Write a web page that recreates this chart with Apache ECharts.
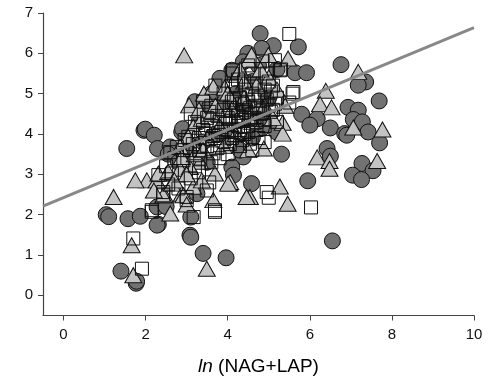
<!DOCTYPE html>
<html>
<head>
<meta charset="utf-8">
<script src="https://cdn.jsdelivr.net/npm/echarts@6/dist/echarts.min.js"></script>
<style>html,body{margin:0;padding:0;background:#fff}#c{width:494px;height:382px}</style>
</head>
<body>
<div id="c"></div>
<script>
const xTicks = [0, 2, 4, 6, 8, 10];
const yTicks = [0, 1, 2, 3, 4, 5, 6, 7];
const xTitle = 'ln';
const xTitleRest = ' (NAG+LAP)';

const circles = [
  [1.04,2.0],[1.1,1.95],[1.57,1.9],[1.87,1.96],[2.28,2.19],[2.31,1.76],[2.28,1.74],[3.1,1.94],[3.08,1.49],[3.1,1.44],
  [3.4,1.04],[3.96,0.93],[1.4,0.6],[1.77,0.3],[1.78,0.35],
  [1.54,3.64],[1.96,4.09],[1.99,4.12],[2.21,3.97],[2.29,3.64],[2.6,3.68],[2.88,4.05],[2.9,4.13],[2.55,3.5],[3.25,2.52],[2.5,2.2],
  [4.79,6.49],[5.72,6.16],[5.11,6.19],[4.83,6.12],[4.49,6.0],[4.38,5.79],[4.1,5.58],[3.81,5.38],[5.64,5.52],[5.92,5.52],
  [6.76,5.72],[7.36,5.29],[7.18,5.21],[7.69,4.82],[5.8,4.49],[6.18,4.38],[6.0,4.22],[6.5,4.15],[6.93,4.66],[7.18,4.59],
  [7.06,4.36],[7.28,4.3],[6.85,4.01],[6.9,3.97],[7.42,4.05],[7.7,3.78],[5.31,3.5],[6.42,3.64],[6.5,3.45],[7.27,3.27],
  [7.54,3.09],[7.04,2.98],[7.26,2.87],[5.95,2.84],[4.58,2.77],[4.38,3.43],[4.83,4.14],[5.19,4.05],[6.55,1.35],[4.1,3.18],[4.14,2.98],
  [3.5,4.6],[3.3,4.3],[3.7,4.0],[4.0,3.9],[4.3,3.6],[4.6,3.9],[4.9,4.4],[5.0,4.9],[5.2,5.6],[4.6,5.3],
  [4.2,5.0],[3.9,4.8],[3.4,3.8],[3.0,3.6],[3.6,5.0],[4.4,4.7],[3.2,4.8],[4.75,5.7],[2.8,3.3],[3.5,3.3]
];

const triangles = [
  [2.94,5.95],[3.06,4.71],[3.42,5.0],[3.65,5.17],[3.93,5.15],[4.22,5.46],[4.5,5.83],[4.58,5.96],[4.99,5.96],[5.47,5.87],
  [7.18,5.54],[6.39,5.07],[6.25,4.74],[6.53,4.66],[5.34,4.28],[5.34,4.01],[4.88,3.64],[7.06,4.16],[7.77,4.11],[6.18,3.42],
  [6.48,3.33],[6.48,3.14],[7.64,3.33],[5.27,2.7],[4.54,2.44],[5.46,2.27],[4.04,2.77],[3.65,2.36],
  [3.16,4.18],[3.37,4.38],[3.04,3.93],[2.84,3.68],[2.03,2.85],[2.27,2.85],[2.52,3.02],[3.0,3.23],[3.33,3.31],[4.06,2.81],
  [1.22,2.44],[1.66,1.24],[1.7,0.5],[3.49,0.66],[2.6,2.03],[2.47,2.48],[2.88,2.52],[4.46,2.44],[2.31,3.02],[2.55,3.06],
  [2.43,2.48],[3.16,2.69],[3.37,2.85],[2.92,2.48],[2.64,2.77],[2.84,3.14],[3.69,3.02],[4.01,2.77],[3.08,3.18],[2.88,3.43],
  [3.0,2.25],[2.2,2.6],[1.75,2.85],
  [3.3,4.6],[3.6,4.5],[3.8,4.2],[4.1,4.6],[4.4,4.9],[4.7,5.2],[5.0,5.4],[5.2,5.1],[4.6,4.3],[4.2,4.0],
  [3.9,3.7],[3.5,3.9],[3.2,3.5],[4.4,5.3],[4.9,4.7],[5.4,4.7],[4.0,5.0],[3.7,4.7],[4.8,5.6],[4.3,5.6],
  [3.4,3.6],[4.5,3.6],[3.0,3.0],[2.7,2.85],[5.1,4.4]
];

const squares = [
  [5.5,6.48],[5.58,5.0],[5.5,4.78],[4.95,2.56],[5.0,2.42],[6.03,2.18],[4.54,3.76],
  [1.7,1.41],[1.91,0.66],[2.15,2.07],[3.69,2.07],[3.17,1.94],[3.49,2.6],[2.43,2.48],[3.0,2.36],
  [2.76,3.68],[3.08,3.6],[3.33,3.68],[2.64,3.02],[2.43,2.56],[2.31,2.98],[3.0,2.44],[3.69,2.11],[2.15,2.11],
  [3.33,3.39],[3.65,3.52],[2.92,3.35],[3.04,3.93],
  [5.15,5.83],[4.13,5.58],[5.27,5.58],[5.6,5.04],
  [3.4,4.1],[3.5,4.4],[3.6,4.7],[3.7,3.9],[3.8,4.3],[3.9,4.6],[4.0,4.1],[4.0,4.4],[4.1,4.8],[4.2,4.3],
  [4.2,4.6],[4.3,4.1],[4.3,4.9],[4.4,4.4],[4.4,4.6],[4.5,4.8],[4.5,4.2],[4.6,4.5],[4.6,5.0],[4.7,4.7],
  [4.7,4.3],[4.8,4.9],[4.8,4.5],[4.9,5.1],[4.9,4.2],[5.0,4.7],[5.1,4.6],[5.1,5.2],[5.2,4.9],[5.0,5.3],
  [4.6,5.5],[4.4,5.3],[4.2,5.2],[3.9,5.0],[3.7,5.2],[3.6,4.2],[3.3,3.9],[3.5,3.7],[3.9,3.8],[4.1,3.9],
  [4.4,4.0],[4.7,4.1],[4.9,3.8],[4.3,3.7],[4.0,3.5],[3.8,3.4],[3.2,4.3],[3.4,4.8],[3.1,4.5],[4.1,5.5],
  [4.5,5.7],[4.85,5.8],[5.3,5.6],[5.2,4.3],[4.6,3.6],[3.6,3.3],[3.2,3.2],[2.9,3.6],[2.7,3.4],[2.5,3.2],
  [4.75,4.65],[4.35,4.75],[4.05,4.25],[4.55,4.35],[4.25,4.45],[4.65,4.85],[3.95,4.45],[4.15,4.05],[4.85,4.35],[5.05,4.55],
  [3.3,3.6],[3.45,4.0],[3.55,4.55],[3.75,4.45],[3.85,4.05],[3.95,4.25],[4.05,4.65],[4.15,4.85],[4.25,4.2],[4.35,4.35],
  [4.45,4.55],[4.55,4.65],[4.65,4.4],[4.75,4.95],[4.85,4.6],[4.95,4.85],[5.05,5.05],[5.15,4.75],[4.45,5.1],[4.25,5.35],
  [4.65,5.25],[4.95,5.5],[3.75,3.65],[4.05,3.75],[4.35,3.85],[4.75,3.9],[3.15,3.75],[2.95,3.85],[2.6,3.55],[3.1,2.9],
  [3.3,3.05],[2.8,2.65],[2.55,2.75],[3.55,2.8],[4.1,5.2],[4.5,4.05],[3.65,3.95]
];

const fitX = [-0.5, 10];
const fitY = [2.21, 6.64];

const chart = echarts.init(document.getElementById('c'), null, {renderer: 'canvas'});
const font = 'Liberation Sans, Arial, sans-serif';
const axisCol = '#444';

chart.setOption({
  animation: false,
  backgroundColor: '#fff',
  grid: {left: 43, right: 20, top: 13, bottom: 66.5, containLabel: false},
  xAxis: {
    type: 'value', min: -0.5, max: 10,
    name: '{i|' + xTitle + '}' + xTitleRest,
    nameLocation: 'middle', nameGap: 42,
    nameTextStyle: {fontFamily: font, fontSize: 19, color: '#000',
      rich: {i: {fontStyle: 'italic', fontFamily: font, fontSize: 19, color: '#000'}}},
    splitLine: {show: false},
    axisLine: {show: true, onZero: false, lineStyle: {color: axisCol, width: 1.2}},
    axisTick: {show: true, inside: false, length: 5, customValues: xTicks, lineStyle: {color: axisCol}},
    axisLabel: {customValues: xTicks, margin: 12, fontFamily: font, fontSize: 15, color: '#111'}
  },
  yAxis: {
    type: 'value', min: -0.5, max: 7,
    splitLine: {show: false},
    axisLine: {show: true, onZero: false, lineStyle: {color: axisCol, width: 1.2}},
    axisTick: {show: true, inside: false, length: 5, customValues: yTicks, lineStyle: {color: axisCol}},
    axisLabel: {customValues: yTicks, margin: 10, fontFamily: font, fontSize: 15, color: '#111'}
  },
  series: [
    {type: 'scatter', data: circles, symbol: 'circle', symbolSize: 16,
     itemStyle: {color: '#727272', borderColor: '#111', borderWidth: 1, opacity: 1}},
    {type: 'scatter', data: triangles, symbol: 'triangle', symbolSize: [17, 15],
     itemStyle: {color: '#c3c3c3', borderColor: '#111', borderWidth: 1, opacity: 1}},
    {type: 'scatter', data: squares, symbol: 'rect', symbolSize: 13,
     itemStyle: {color: 'rgba(255,255,255,0)', borderColor: '#111', borderWidth: 1, opacity: 1}},
    {type: 'line', data: fitX.map((x, i) => [x, fitY[i]]), symbol: 'none', z: 5,
     lineStyle: {color: '#888', width: 3}}
  ]
});
</script>
</body>
</html>
